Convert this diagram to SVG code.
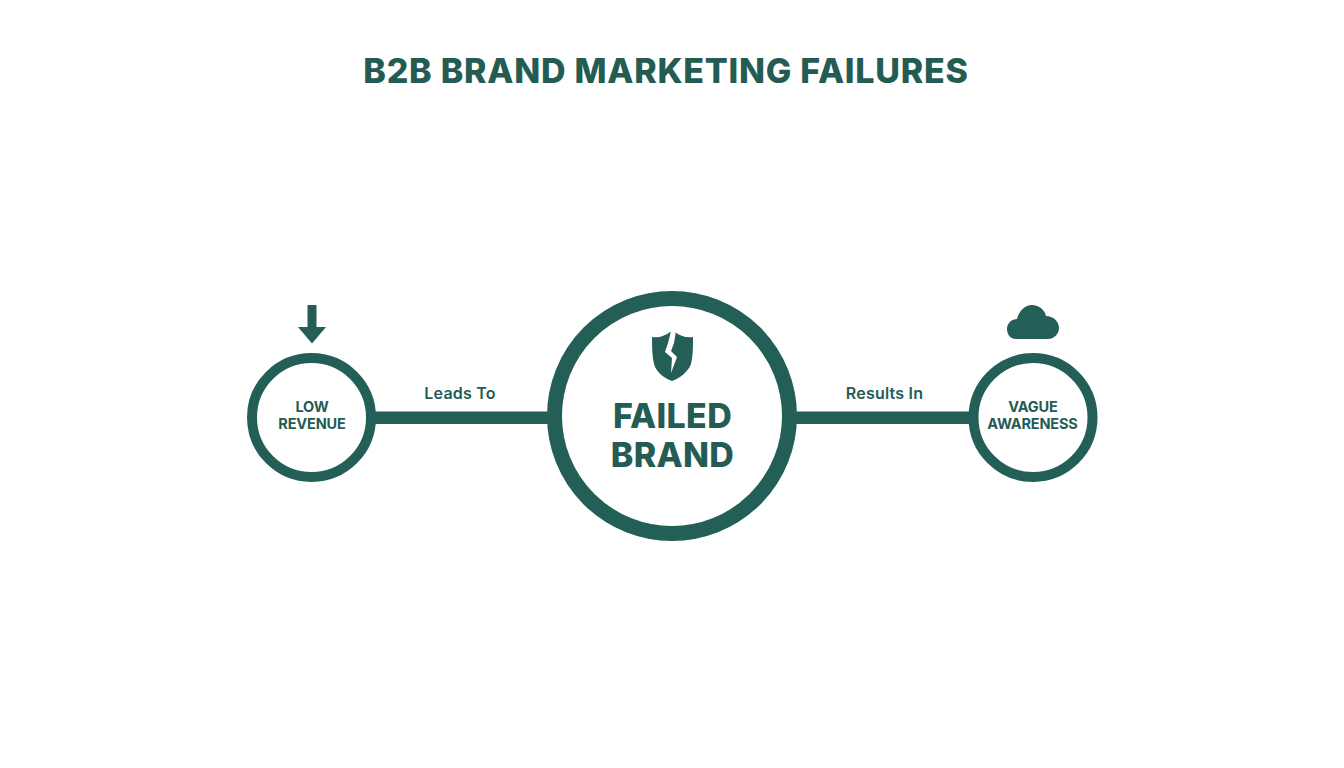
<svg xmlns="http://www.w3.org/2000/svg" width="1344" height="768" viewBox="0 0 1344 768">
<style>
text{font-family:"Inter","Open Sans","Liberation Sans",sans-serif;fill:#245c54;text-anchor:middle}
.ring{fill:#fff;stroke:#245f57}
.icon{fill:#245f57}
.small{font-size:14.500px;font-weight:700;letter-spacing:-0.150px}
.edge{font-size:16px;font-weight:600;letter-spacing:0.200px}
.big{font-size:34px;font-weight:800;letter-spacing:0.300px}
</style>
<rect width="1344" height="768" fill="#fff"/>
<text id="title" x="666" y="83" font-size="34" font-weight="800" letter-spacing="0.750">B2B BRAND MARKETING FAILURES</text>
<g id="connectors">
<rect x="370" y="411.500" width="185" height="12.500" fill="#245f57"/>
<rect x="790" y="411.500" width="185" height="12.500" fill="#245f57"/>
<text class="edge" x="460" y="399">Leads To</text>
<text class="edge" x="884.500" y="399">Results In</text>
</g>
<g id="node-low-revenue">
<circle class="ring" cx="311.500" cy="417.500" r="59.500" stroke-width="10"/>
<text class="small" x="312" y="412">LOW</text>
<text class="small" x="312" y="429">REVENUE</text>
<path class="icon" d="M307.500 305H316.500V327H326L312 343.500L298 327H307.500Z"/>
</g>
<g id="node-failed-brand">
<circle class="ring" cx="672" cy="416" r="117.500" stroke-width="15"/>
<path class="icon" d="M672 381C664 378 656 372 654 364C652 356 652 346 652 337C659 338 665 336 670 332L675 332C680 336 686 338 693 337C693 346 693 356 691 364C688 372 680 378 672 381Z"/>
<path d="M671 331L668 343L665 352L672 358L671 373L677 357L671 351L674 343L676 331Z" fill="#fff"/>
<text class="big" x="672.500" y="428">FAILED</text>
<text class="big" x="672.500" y="467">BRAND</text>
</g>
<g id="node-vague-awareness">
<circle class="ring" cx="1033" cy="417.500" r="59.500" stroke-width="10"/>
<text class="small" x="1033" y="412">VAGUE</text>
<text class="small" x="1032.500" y="429">AWARENESS</text>
<path class="icon" d="M1016 339C1010 339 1007 334 1007 329C1007 323 1012 319 1017 319C1019 311 1025 305 1032 305C1039 305 1045 310 1046 316C1053 316 1059 321 1059 328C1059 334 1054 339 1048 339Z"/>
</g>
</svg>
